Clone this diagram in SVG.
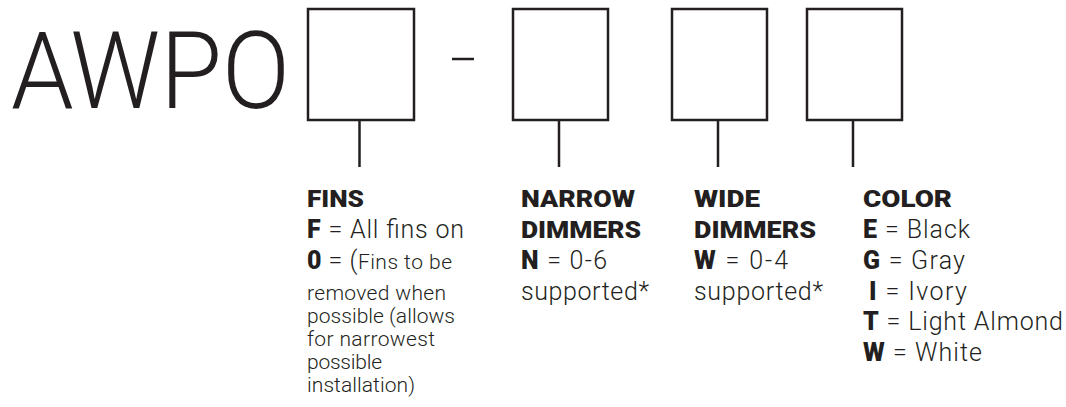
<svg xmlns="http://www.w3.org/2000/svg" width="1066" height="407" viewBox="0 0 1066 407">
<style>
.box{fill:#fff;stroke:#231f20;stroke-width:2.5}
.ln{stroke:#231f20;stroke-width:2.5;fill:none}
.t{font-family:Roboto,"Liberation Sans",sans-serif;font-weight:300;fill:#231f20}
.big{font-size:107px}
.h{font-family:Roboto,"Liberation Sans",sans-serif;font-weight:900;font-size:24px;fill:#231f20}
.v{font-size:25px}
.s{font-size:21px}
.b{font-weight:900}
</style>
<rect width="1066" height="407" fill="#fff"/>
<g id="prefix">
<text class="t big" x="11" y="108" textLength="279" lengthAdjust="spacingAndGlyphs">AWPO</text>
</g>
<g id="dash"><line class="ln" x1="452" y1="59" x2="474" y2="59"/></g>
<g id="box-fins"><rect class="box" x="308" y="9" width="106" height="111"/></g>
<g id="box-narrow"><rect class="box" x="513" y="9" width="95" height="111"/></g>
<g id="box-wide"><rect class="box" x="672" y="9" width="95" height="111"/></g>
<g id="box-color"><rect class="box" x="807" y="9" width="95" height="111"/></g>
<g id="connectors">
<line class="ln" x1="359.5" y1="120" x2="359.5" y2="167"/>
<line class="ln" x1="559" y1="120" x2="559" y2="167"/>
<line class="ln" x1="718" y1="120" x2="718" y2="167"/>
<line class="ln" x1="853" y1="120" x2="853" y2="167"/>
</g>
<g id="label-fins">
<text class="h" x="307" y="207" textLength="57" lengthAdjust="spacingAndGlyphs">FINS</text>
<text class="t v" x="307" y="238" textLength="157"><tspan class="b">F</tspan> = All fins on</text>
<text class="t v" x="307" y="269" textLength="145"><tspan class="b">0</tspan> = (<tspan class="s">Fins to be</tspan></text>
<text class="t s" x="307" y="300" textLength="139">removed when</text>
<text class="t s" x="307" y="323" textLength="148">possible (allows</text>
<text class="t s" x="307" y="346" textLength="128">for narrowest</text>
<text class="t s" x="307" y="369" textLength="75">possible</text>
<text class="t s" x="307" y="392" textLength="108">installation)</text>
</g>
<g id="label-narrow">
<text class="h" x="521" y="207" textLength="114" lengthAdjust="spacingAndGlyphs">NARROW</text>
<text class="h" x="521" y="238" textLength="120" lengthAdjust="spacingAndGlyphs">DIMMERS</text>
<text class="t v" x="521" y="269" textLength="86"><tspan class="b">N</tspan> = 0-6</text>
<text class="t v" x="521" y="300" textLength="128">supported*</text>
</g>
<g id="label-wide">
<text class="h" x="694" y="207" textLength="66" lengthAdjust="spacingAndGlyphs">WIDE</text>
<text class="h" x="694" y="238" textLength="122" lengthAdjust="spacingAndGlyphs">DIMMERS</text>
<text class="t v" x="694" y="269" textLength="94"><tspan class="b">W</tspan> = 0-4</text>
<text class="t v" x="694" y="300" textLength="129">supported*</text>
</g>
<g id="label-color">
<text class="h" x="863" y="207" textLength="89" lengthAdjust="spacingAndGlyphs">COLOR</text>
<text class="t v" x="863" y="238" textLength="107"><tspan class="b">E</tspan> = Black</text>
<text class="t v" x="863" y="269" textLength="102"><tspan class="b">G</tspan> = Gray</text>
<text class="t v" x="869" y="300" textLength="98"><tspan class="b">I</tspan> = Ivory</text>
<text class="t v" x="863" y="330" textLength="200"><tspan class="b">T</tspan> = Light Almond</text>
<text class="t v" x="863" y="361" textLength="119"><tspan class="b">W</tspan> = White</text>
</g>
</svg>
